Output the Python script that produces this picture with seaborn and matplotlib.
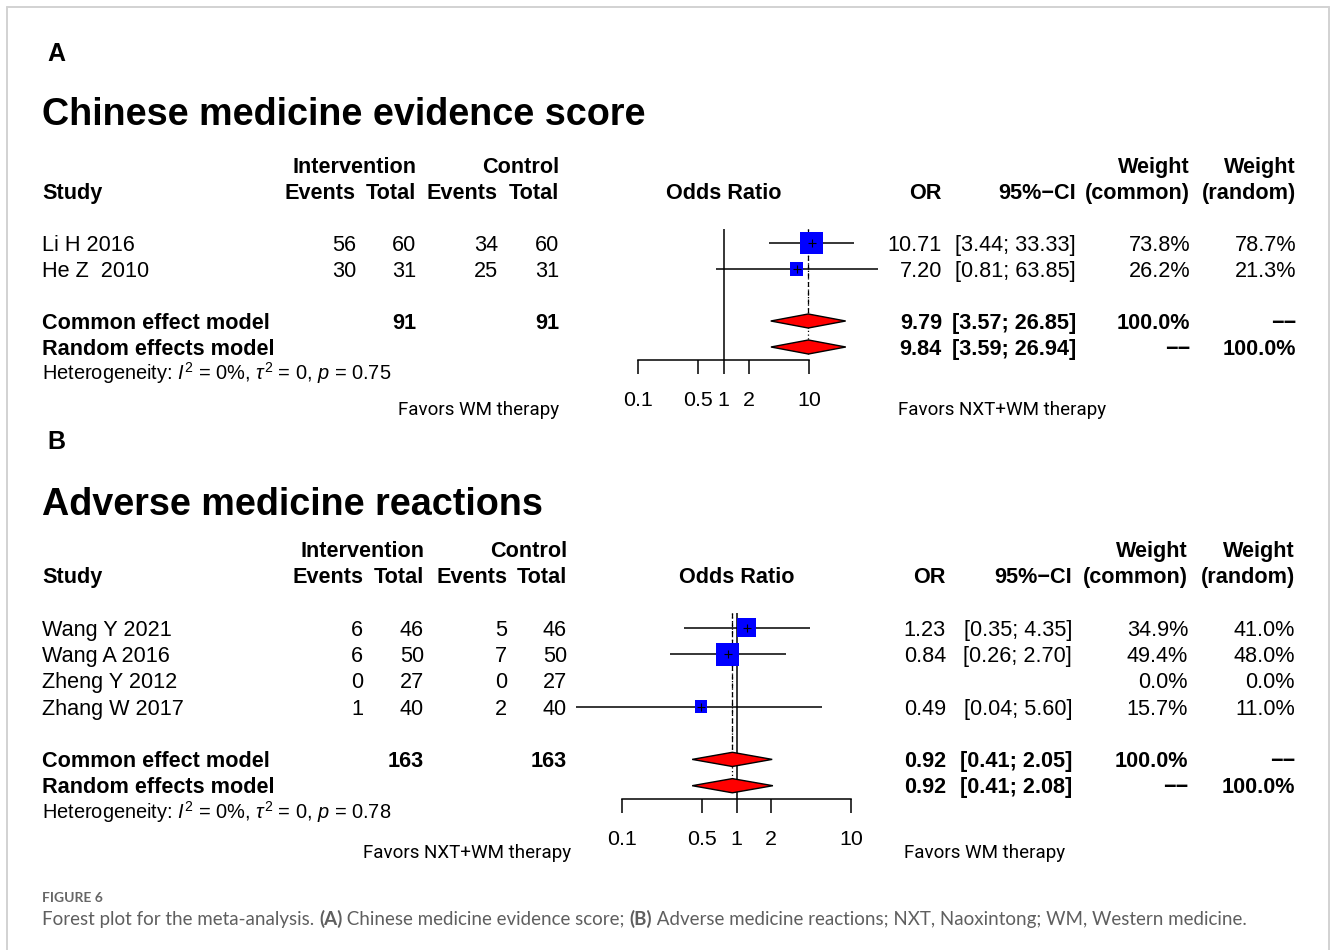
import numpy as np
import pandas as pd
import matplotlib
matplotlib.use("Agg")
import matplotlib.pyplot as plt
import matplotlib.transforms as mtrans
from matplotlib.lines import Line2D
from matplotlib.ticker import NullLocator
import seaborn as sns

# ---------------- Panel A: Chinese medicine evidence score ----------------
a_studies = ["Li H 2016", "He Z  2010"]
a_events_nxt = [56, 30]
a_total_nxt = [60, 31]
a_events_wm = [34, 25]
a_total_wm = [60, 31]
a_or = [10.71, 7.20]
a_ci_low = [3.44, 0.81]
a_ci_high = [33.33, 63.85]
a_weight_common = [73.8, 26.2]
a_weight_random = [78.7, 21.3]
a_pooled_or = [9.79, 9.84]        # common effect, random effects
a_pooled_low = [3.57, 3.59]
a_pooled_high = [26.85, 26.94]
a_pooled_total = [91, 91]         # intervention, control
a_het = ["0%", "0", "0.75"]       # I^2, tau^2, p

# ---------------- Panel B: Adverse medicine reactions ----------------
b_studies = ["Wang Y 2021", "Wang A 2016", "Zheng Y 2012", "Zhang W 2017"]
b_events_nxt = [6, 6, 0, 1]
b_total_nxt = [46, 50, 27, 40]
b_events_wm = [5, 7, 0, 2]
b_total_wm = [46, 50, 27, 40]
b_or = [1.23, 0.84, np.nan, 0.49]
b_ci_low = [0.35, 0.26, np.nan, 0.04]
b_ci_high = [4.35, 2.70, np.nan, 5.60]
b_weight_common = [34.9, 49.4, 0.0, 15.7]
b_weight_random = [41.0, 48.0, 0.0, 11.0]
b_pooled_or = [0.92, 0.92]
b_pooled_low = [0.41, 0.41]
b_pooled_high = [2.05, 2.08]
b_pooled_total = [163, 163]
b_het = ["0%", "0", "0.78"]

tick_values = [0.1, 0.5, 1, 2, 10]
tick_labels = ["0.1", "0.5", "1", "2", "10"]

# ---------------- styling ----------------
sns.set_theme(style="white")
plt.rcParams["font.family"] = ["Liberation Sans", "DejaVu Sans"]
plt.rcParams["mathtext.fontset"] = "custom"
plt.rcParams["mathtext.rm"] = "Liberation Sans"
plt.rcParams["mathtext.it"] = "Liberation Sans:italic"
plt.rcParams["mathtext.bf"] = "Liberation Sans:bold"
plt.rcParams["text.color"] = "black"

W, H = 1330, 950
BODY = 15.6
HET = 14.4
TICK = 15.4
CAP = 0.358          # half cap-height as a fraction of the font size
FAV_FONT = "Roboto"
FAV_SIZE = 13.5
DASHES = "\u2212\u2212"

fig = plt.figure(figsize=(W / 100, H / 100), dpi=100)
fig.patch.set_facecolor("white")


def fig_put(xpx, ypx, s, size, ha="left", weight="normal", family=None, color="black"):
    base = ypx + CAP * size * 100 / 72
    kw = {}
    if family is not None:
        kw["family"] = family
    return fig.text(xpx / W, 1 - base / H, s, ha=ha, va="baseline", fontsize=size,
                    fontweight=weight, color=color, **kw)


def put(ax, x, row, s, ha="left", size=BODY, weight="normal", xdata=False):
    shift = mtrans.ScaledTranslation(0, -CAP * size / 72, fig.dpi_scale_trans)
    if xdata:
        tr = ax.transData + shift
        xv = x
    else:
        tr = mtrans.blended_transform_factory(fig.transFigure, ax.transData) + shift
        xv = x / W
    ax.text(xv, row, s, transform=tr, ha=ha, va="baseline", fontsize=size,
            fontweight=weight, color="black", clip_on=False)


def draw_panel(L, letter, title, studies, ev1, tot1, ev2, tot2, ors, lows, highs,
               wc, wr, p_or, p_lo, p_hi, p_tot, het, left_label, right_label):
    row0, rh = L["row0"], L["row_h"]
    top_px = row0 - 0.5 * rh
    bottom_row = (L["axis_y"] - row0) / rh
    x0, x1 = L["ax_x"]
    ax = fig.add_axes([x0 / W, 1 - L["axis_y"] / H, (x1 - x0) / W, (L["axis_y"] - top_px) / H])
    ax.patch.set_alpha(0)

    rows = list(range(3, 3 + len(studies)))
    r_common = rows[-1] + 2
    r_random = r_common + 1
    r_het = r_random + 1

    # study squares, area proportional to the common-effect weight
    df = pd.DataFrame({"OR": ors, "row": rows, "w": wc, "lo": lows, "hi": highs}).dropna()
    ax.hlines(df["row"], df["lo"], df["hi"], color="black", lw=1.1, zorder=2)
    sns.scatterplot(data=df, x="OR", y="row", size="w", sizes=(0, L["sq_area100"]),
                    size_norm=(0, 100), marker="s", color="#0000ff", linewidth=0,
                    legend=False, ax=ax, zorder=3)
    ax.scatter(df["OR"], df["row"], marker="+", s=40, color="black", linewidths=0.8, zorder=4)

    # pooled diamonds
    hh = 0.27
    for r, est, lo, hi in zip([r_common, r_random], p_or, p_lo, p_hi):
        ax.fill([lo, est, hi, est], [r, r - hh, r, r + hh], facecolor="#ff0000",
                edgecolor="black", lw=1.0, zorder=3)

    # reference and summary lines
    ax.vlines(1, L["ref_top"], bottom_row, color="black", lw=1.1, zorder=1)
    ax.vlines(p_or[0], L["ref_top"], r_common + hh, color="black", lw=0.9,
              linestyles=(0, (4, 3)), zorder=1)
    ax.vlines(p_or[1], L["ref_top"], r_random + hh, color="black", lw=0.9,
              linestyles=(0, (1, 2)), zorder=1)

    per_dec = (L["p10"] - L["p01"]) / 2
    ax.set_xscale("log")
    ax.set_xlim(10 ** (-1 + (x0 - L["p01"]) / per_dec), 10 ** (-1 + (x1 - L["p01"]) / per_dec))
    ax.set_ylim(bottom_row, -0.5)
    ax.set_xticks(tick_values)
    ax.set_xticklabels(tick_labels)
    ax.xaxis.set_minor_locator(NullLocator())
    ax.set_xlabel("")
    ax.set_ylabel("")
    ax.tick_params(axis="x", which="major", direction="out", length=10, width=1.1,
                   pad=12, labelsize=TICK, bottom=True, colors="black")
    ax.tick_params(axis="y", left=False, labelleft=False)
    for side in ["top", "left", "right"]:
        ax.spines[side].set_visible(False)
    ax.spines["bottom"].set_bounds(0.1, 10)
    ax.spines["bottom"].set_linewidth(1.1)
    ax.spines["bottom"].set_color("black")

    c = L["cols"]
    # panel letter and title
    fig_put(47, L["letter_y"], letter, 18, weight="bold")
    fig_put(42, L["title_y"], title, 27.2, weight="bold")

    # column headers
    put(ax, c["tot1"], 0, "Intervention", ha="right", weight="bold")
    put(ax, c["tot2"], 0, "Control", ha="right", weight="bold")
    put(ax, c["wc"], 0, "Weight", ha="right", weight="bold")
    put(ax, c["wr"], 0, "Weight", ha="right", weight="bold")
    put(ax, 42, 1, "Study", weight="bold")
    put(ax, c["ev1"], 1, "Events", ha="right", weight="bold")
    put(ax, c["tot1"], 1, "Total", ha="right", weight="bold")
    put(ax, c["ev2"], 1, "Events", ha="right", weight="bold")
    put(ax, c["tot2"], 1, "Total", ha="right", weight="bold")
    put(ax, 1, 1, "Odds Ratio", ha="center", weight="bold", xdata=True)
    put(ax, c["or"], 1, "OR", ha="right", weight="bold")
    put(ax, c["ci"], 1, "95%\u2212CI", ha="right", weight="bold")
    put(ax, c["wc"], 1, "(common)", ha="right", weight="bold")
    put(ax, c["wr"], 1, "(random)", ha="right", weight="bold")

    # study rows
    for r, s, e1, t1, e2, t2, o, lo, hi, w1, w2 in zip(rows, studies, ev1, tot1, ev2, tot2,
                                                        ors, lows, highs, wc, wr):
        put(ax, 42, r, s)
        put(ax, c["ev1"], r, str(e1), ha="right")
        put(ax, c["tot1"], r, str(t1), ha="right")
        put(ax, c["ev2"], r, str(e2), ha="right")
        put(ax, c["tot2"], r, str(t2), ha="right")
        if not np.isnan(o):
            put(ax, c["or"], r, f"{o:.2f}", ha="right")
            put(ax, c["ci"], r, f"[{lo:.2f}; {hi:.2f}]", ha="right")
        put(ax, c["wc"], r, f"{w1:.1f}%", ha="right")
        put(ax, c["wr"], r, f"{w2:.1f}%", ha="right")

    # pooled rows
    put(ax, 42, r_common, "Common effect model", weight="bold")
    put(ax, c["tot1"], r_common, str(p_tot[0]), ha="right", weight="bold")
    put(ax, c["tot2"], r_common, str(p_tot[1]), ha="right", weight="bold")
    put(ax, 42, r_random, "Random effects model", weight="bold")
    for r, est, lo, hi in zip([r_common, r_random], p_or, p_lo, p_hi):
        put(ax, c["or"], r, f"{est:.2f}", ha="right", weight="bold")
        put(ax, c["ci"], r, f"[{lo:.2f}; {hi:.2f}]", ha="right", weight="bold")
    put(ax, c["wc"], r_common, "100.0%", ha="right", weight="bold")
    put(ax, c["wr"], r_common, DASHES, ha="right", weight="bold")
    put(ax, c["wc"], r_random, DASHES, ha="right", weight="bold")
    put(ax, c["wr"], r_random, "100.0%", ha="right", weight="bold")

    put(ax, 42, r_het,
        rf"Heterogeneity: $I^2$ = {het[0]}, $\tau^2$ = {het[1]}, $p$ = {het[2]}",
        size=HET)

    fig_put(L["fav_left"], L["fav_y"], left_label, FAV_SIZE, ha="right", family=FAV_FONT)
    fig_put(L["fav_right"], L["fav_y"], right_label, FAV_SIZE, ha="left", family=FAV_FONT)


LAYOUT_A = dict(letter_y=52, title_y=111, row0=165, row_h=26, ax_x=(560, 905),
                p01=638, p10=809, axis_y=360, ref_top=2.46,
                cols=dict(ev1=356, tot1=416, ev2=498, tot2=559, **{"or": 942},
                          ci=1076, wc=1190, wr=1296),
                fav_y=408, fav_left=559, fav_right=898, sq_area100=345)

LAYOUT_B = dict(letter_y=440, title_y=501, row0=549, row_h=26.3, ax_x=(570, 905),
                p01=622, p10=851, axis_y=799, ref_top=2.43,
                cols=dict(ev1=363, tot1=424, ev2=507, tot2=567, **{"or": 946},
                          ci=1072, wc=1188, wr=1295),
                fav_y=851, fav_left=571, fav_right=904, sq_area100=541)

draw_panel(LAYOUT_A, "A", "Chinese medicine evidence score", a_studies, a_events_nxt,
           a_total_nxt, a_events_wm, a_total_wm, a_or, a_ci_low, a_ci_high,
           a_weight_common, a_weight_random, a_pooled_or, a_pooled_low, a_pooled_high,
           a_pooled_total, a_het, "Favors WM therapy", "Favors NXT+WM therapy")

draw_panel(LAYOUT_B, "B", "Adverse medicine reactions", b_studies, b_events_nxt,
           b_total_nxt, b_events_wm, b_total_wm, b_or, b_ci_low, b_ci_high,
           b_weight_common, b_weight_random, b_pooled_or, b_pooled_low, b_pooled_high,
           b_pooled_total, b_het, "Favors NXT+WM therapy", "Favors WM therapy")

# frame around the figure
frame_kw = dict(color="#d2d2d2", lw=1.4, transform=fig.transFigure)
fig.add_artist(Line2D([7 / W, 1329 / W], [1 - 7 / H, 1 - 7 / H], **frame_kw))
fig.add_artist(Line2D([7 / W, 7 / W], [1 - 7 / H, 0], **frame_kw))
fig.add_artist(Line2D([1329 / W, 1329 / W], [1 - 7 / H, 0], **frame_kw))

# caption
CAPTION_FONT = "Lato"
CAPTION_COLOR = "#5f5f5f"
fig_put(42, 897, "FIGURE 6", 10, weight="bold", family=CAPTION_FONT, color="#666666")
pieces = [("Forest plot for the meta-analysis. ", "normal"), ("(A)", "bold"),
          (" Chinese medicine evidence score; ", "normal"), ("(B)", "bold"),
          (" Adverse medicine reactions; NXT, Naoxintong; WM, Western medicine.", "normal")]
renderer = fig.canvas.get_renderer()
xpos = 42
for txt, wt in pieces:
    t = fig_put(xpos, 918, txt, 13.5, weight=wt, family=CAPTION_FONT, color=CAPTION_COLOR)
    xpos += t.get_window_extent(renderer).width

fig.savefig("out.png", dpi=100, facecolor="white")
